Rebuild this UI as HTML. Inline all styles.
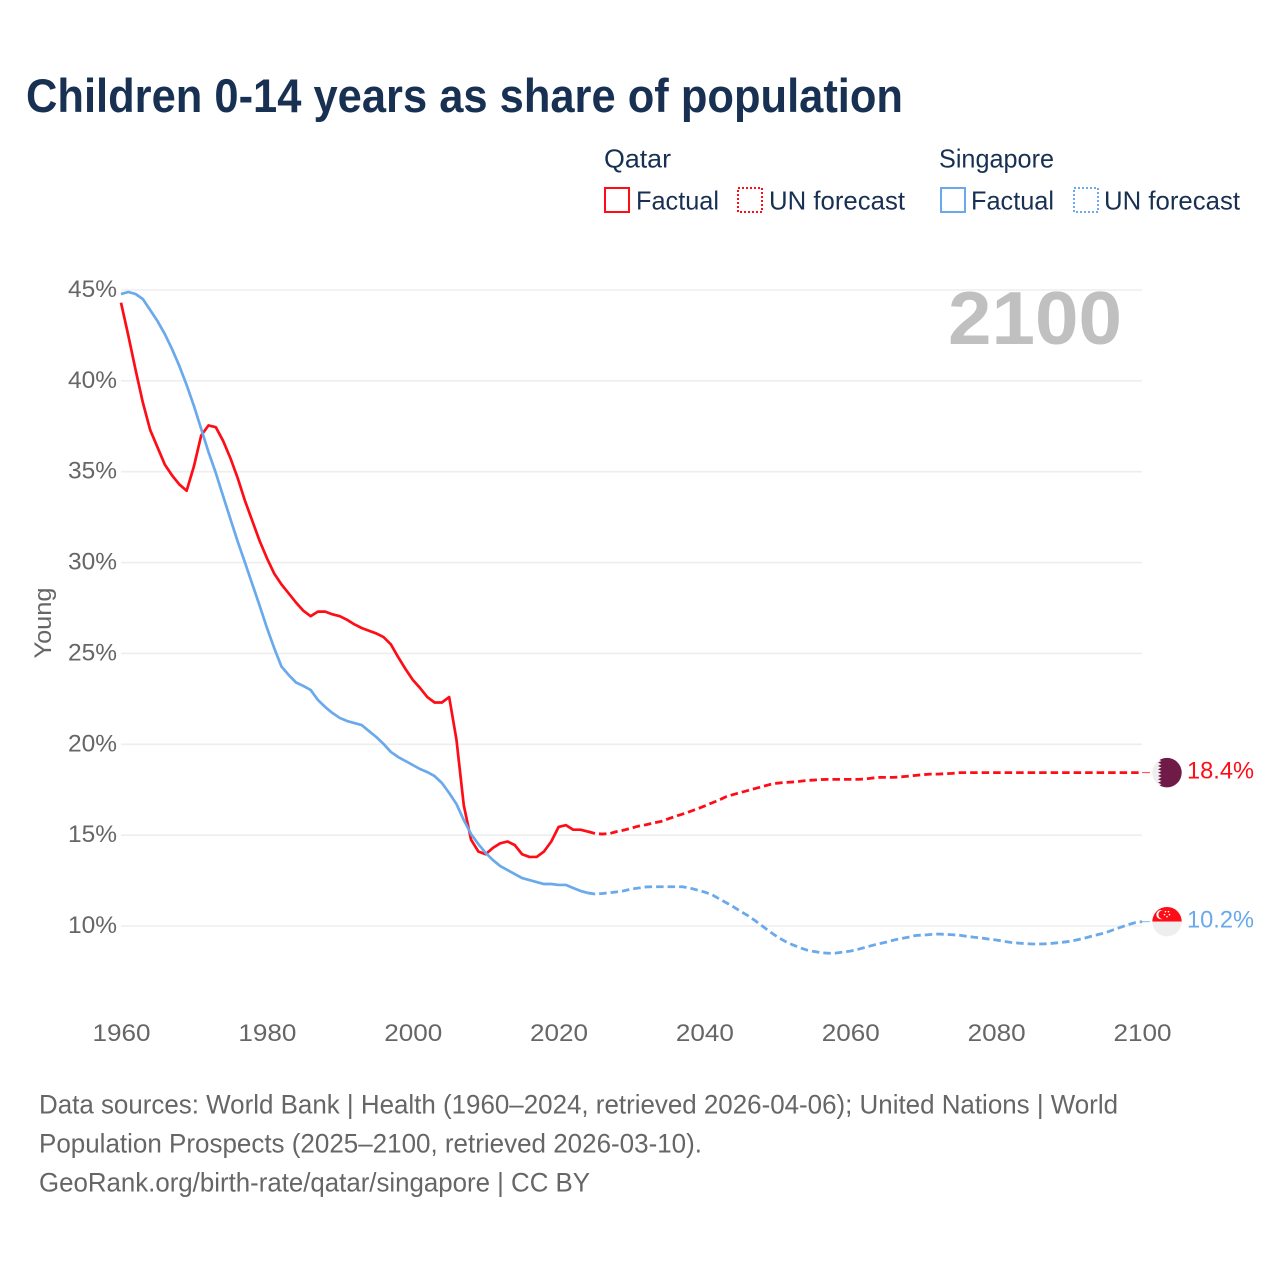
<!DOCTYPE html>
<html lang="en">
<head>
<meta charset="utf-8">
<title>Children 0-14 years as share of population</title>
<style>
html,body{margin:0;padding:0;background:#fff;}
svg{display:block;font-family:"Liberation Sans",sans-serif;}
</style>
</head>
<body>
<svg id="chart" xmlns="http://www.w3.org/2000/svg" width="1280" height="1280" viewBox="0 0 1280 1280">
  <rect x="0" y="0" width="1280" height="1280" fill="#ffffff"/>
  <text x="26" y="112" font-size="47" font-weight="700" fill="#183153" textLength="877" lengthAdjust="spacingAndGlyphs">Children 0-14 years as share of population</text>

  <g font-size="26" fill="#183153">
    <text x="604" y="167.5" textLength="67" lengthAdjust="spacingAndGlyphs">Qatar</text>
    <text x="939" y="167.5" textLength="115" lengthAdjust="spacingAndGlyphs">Singapore</text>
    <g>
      <rect x="605" y="188" width="24" height="24" fill="none" stroke="#ff0d17" stroke-width="2"/>
      <text x="636" y="209.5" textLength="83" lengthAdjust="spacingAndGlyphs">Factual</text>
    </g>
    <g>
      <rect x="738" y="188" width="24" height="24" fill="none" stroke="#ff0d17" stroke-width="2" stroke-dasharray="2 2"/>
      <text x="769" y="209.5" textLength="136" lengthAdjust="spacingAndGlyphs">UN forecast</text>
    </g>
    <g>
      <rect x="941" y="188" width="24" height="24" fill="none" stroke="#69a9ec" stroke-width="2"/>
      <text x="971" y="209.5" textLength="83" lengthAdjust="spacingAndGlyphs">Factual</text>
    </g>
    <g>
      <rect x="1074" y="188" width="24" height="24" fill="none" stroke="#69a9ec" stroke-width="2" stroke-dasharray="2 2"/>
      <text x="1104" y="209.5" textLength="136" lengthAdjust="spacingAndGlyphs">UN forecast</text>
    </g>
  </g>

  <g id="grid"></g>
  <g id="ylabels" font-size="24" fill="#666666" text-anchor="end"></g>
  <g id="xlabels" font-size="24" fill="#666666" text-anchor="middle"></g>
  <text transform="translate(51 623) rotate(-90)" font-size="24" fill="#666666" text-anchor="middle" textLength="71" lengthAdjust="spacingAndGlyphs">Young</text>
  <text x="948" y="344" font-size="75" font-weight="700" fill="#c0c0c0" textLength="174" lengthAdjust="spacingAndGlyphs">2100</text>

  <g id="series"></g>
  <g id="ends"></g>

  <g font-size="27" fill="#666666">
    <text x="39" y="1113.5" textLength="1079" lengthAdjust="spacingAndGlyphs">Data sources: World Bank | Health (1960–2024, retrieved 2026-04-06); United Nations | World</text>
    <text x="39" y="1152.5" textLength="663" lengthAdjust="spacingAndGlyphs">Population Prospects (2025–2100, retrieved 2026-03-10).</text>
    <text x="39" y="1191.5" textLength="551" lengthAdjust="spacingAndGlyphs">GeoRank.org/birth-rate/qatar/singapore | CC BY</text>
  </g>
</svg>
<script>
const firstYear = 1960;
const xTicks = [1960, 1980, 2000, 2020, 2040, 2060, 2080, 2100];
const yTicks = [10, 15, 20, 25, 30, 35, 40, 45];

const qatarFactual = [
  44.30, 42.50, 40.60, 38.80, 37.30, 36.35, 35.40, 34.80, 34.30, 33.95,
  35.30, 37.00, 37.55, 37.45, 36.70, 35.75, 34.65, 33.40, 32.30, 31.20,
  30.25, 29.40, 28.80, 28.30, 27.80, 27.35, 27.05, 27.30, 27.30, 27.15,
  27.05, 26.85, 26.60, 26.40, 26.25, 26.10, 25.90, 25.50, 24.80, 24.15,
  23.55, 23.10, 22.60, 22.30, 22.30, 22.60, 20.25, 16.65, 14.75, 14.10,
  13.95, 14.30, 14.55, 14.65, 14.45, 13.95, 13.80, 13.80, 14.10, 14.65,
  15.45, 15.55, 15.30, 15.30, 15.20
];
const qatarForecast = [
  15.09, 15.06, 15.09, 15.20, 15.28, 15.39, 15.50, 15.57, 15.67, 15.75,
  15.89, 16.03, 16.16, 16.30, 16.44, 16.60, 16.77, 16.93, 17.12, 17.24,
  17.35, 17.46, 17.57, 17.68, 17.79, 17.86, 17.90, 17.92, 17.96, 18.01,
  18.03, 18.06, 18.07, 18.07, 18.07, 18.07, 18.07, 18.09, 18.14, 18.18,
  18.18, 18.18, 18.21, 18.25, 18.29, 18.33, 18.36, 18.36, 18.38, 18.40,
  18.44, 18.44, 18.44, 18.44, 18.44, 18.44, 18.44, 18.44, 18.44, 18.44,
  18.44, 18.44, 18.44, 18.44, 18.44, 18.44, 18.44, 18.44, 18.44, 18.44,
  18.44, 18.44, 18.44, 18.44, 18.44, 18.44
];
const singaporeFactual = [
  44.78, 44.89, 44.78, 44.50, 43.90, 43.29, 42.58, 41.75, 40.82, 39.77,
  38.62, 37.35, 36.08, 34.93, 33.66, 32.40, 31.16, 30.00, 28.82, 27.64,
  26.42, 25.30, 24.28, 23.81, 23.40, 23.21, 22.99, 22.44, 22.05, 21.72,
  21.45, 21.28, 21.17, 21.06, 20.73, 20.40, 20.02, 19.58, 19.30, 19.08,
  18.86, 18.64, 18.47, 18.25, 17.87, 17.32, 16.71, 15.83, 15.06, 14.51,
  14.02, 13.63, 13.30, 13.08, 12.86, 12.64, 12.53, 12.42, 12.31, 12.31,
  12.26, 12.26, 12.09, 11.93, 11.82
];
const singaporeForecast = [
  11.76, 11.79, 11.83, 11.88, 11.94, 12.04, 12.09, 12.15, 12.16, 12.16,
  12.16, 12.16, 12.16, 12.09, 11.98, 11.87, 11.73, 11.50, 11.28, 11.05,
  10.80, 10.56, 10.28, 9.98, 9.68, 9.40, 9.17, 8.98, 8.82, 8.68,
  8.60, 8.53, 8.50, 8.51, 8.57, 8.62, 8.71, 8.82, 8.93, 9.03,
  9.12, 9.23, 9.31, 9.39, 9.48, 9.50, 9.53, 9.56, 9.54, 9.52,
  9.49, 9.43, 9.38, 9.34, 9.28, 9.23, 9.16, 9.10, 9.06, 9.03,
  9.01, 9.01, 9.02, 9.06, 9.10, 9.15, 9.23, 9.32, 9.43, 9.53,
  9.63, 9.78, 9.92, 10.06, 10.18, 10.24
];

const NS = 'http://www.w3.org/2000/svg';
function xScale(year) { return 121 + (year - 1960) * (1142 - 121) / (2100 - 1960); }
function yScale(pct) { return 926 - (pct - 10) * (926 - 290) / (45 - 10); }
function make(tag, attrs, parent) {
  const el = document.createElementNS(NS, tag);
  for (const k in attrs) el.setAttribute(k, attrs[k]);
  parent.appendChild(el);
  return el;
}
function pathFrom(values, startYear) {
  return values.map(function (v, i) {
    return (i ? 'L' : 'M') + xScale(startYear + i).toFixed(2) + ' ' + yScale(v).toFixed(2);
  }).join(' ');
}

const grid = document.getElementById('grid');
const ylabels = document.getElementById('ylabels');
const xlabels = document.getElementById('xlabels');
const seriesG = document.getElementById('series');
const ends = document.getElementById('ends');

yTicks.forEach(function (t) {
  const line = make('line', {x1: 121, x2: 1142, y1: yScale(t), y2: yScale(t), stroke: '#eeeeee', 'stroke-width': 1.6}, grid);
  
  
  const label = make('text', {x: 117, y: yScale(t) + 7, textLength: 49, lengthAdjust: 'spacingAndGlyphs'}, ylabels);
  label.textContent = t + '%';
  
  
});

xTicks.forEach(function (t) {
  const label = make('text', {x: xScale(t) + 0.5, y: 1041, textLength: 58, lengthAdjust: 'spacingAndGlyphs'}, xlabels);
  label.textContent = String(t);
  
  
});

function drawSeries(key, factual, forecast, color) {
  const lastFactualYear = firstYear + factual.length - 1;
  const solid = make('path', {d: pathFrom(factual, firstYear), fill: 'none', stroke: color, 'stroke-width': 2.7, 'stroke-linejoin': 'round'}, seriesG);
  
  
  const joined = [factual[factual.length - 1]].concat(forecast);
  const dashed = make('path', {d: pathFrom(joined, lastFactualYear), fill: 'none', stroke: color, 'stroke-width': 2.8, 'stroke-dasharray': '7.5 4', 'stroke-linejoin': 'round'}, seriesG);
  
  
  const lastValue = forecast[forecast.length - 1];
  const connector = make('line', {x1: 1142, x2: 1150, y1: yScale(lastValue), y2: yScale(lastValue), stroke: color, 'stroke-width': 1, opacity: 0.8}, seriesG);
  
  
  const value = make('text', {x: 1187, y: yScale(lastValue) + 6, 'font-size': 24, fill: color, textLength: 67, lengthAdjust: 'spacingAndGlyphs'}, ends);
  value.textContent = lastValue.toFixed(1) + '%';
  
  
  return yScale(lastValue);
}

const qatarEnd = drawSeries('qatar', qatarFactual, qatarForecast, '#ff0d17');
const singaporeEnd = drawSeries('singapore', singaporeFactual, singaporeForecast, '#69a9ec');

const defs = make('defs', {}, ends);
const clip = make('clipPath', {id: 'flag-clip'}, defs);
make('circle', {cx: 0, cy: 0, r: 14.7}, clip);

const qatarFlag = make('g', {transform: 'translate(1167 ' + qatarEnd + ')', 'clip-path': 'url(#flag-clip)'}, ends);


make('rect', {x: -15, y: -15, width: 30, height: 30, fill: '#eeeeee'}, qatarFlag);
let zig = '15,-15 -5.5,-15';
for (let i = 0; i < 9; i++) {
  const top = -15 + i * (30 / 9);
  zig += ' -9,' + (top + 15 / 9).toFixed(2) + ' -5.5,' + (top + 30 / 9).toFixed(2);
}
zig += ' 15,15';
make('polygon', {points: zig, fill: '#6f1a47'}, qatarFlag);

const sgFlag = make('g', {transform: 'translate(1167 ' + singaporeEnd + ')', 'clip-path': 'url(#flag-clip)'}, ends);


make('rect', {x: -15, y: -15, width: 30, height: 15, fill: '#ff0d17'}, sgFlag);
make('rect', {x: -15, y: 0, width: 30, height: 15, fill: '#eeeeee'}, sgFlag);
make('circle', {cx: -6, cy: -7, r: 4.6, fill: '#ffffff'}, sgFlag);
make('circle', {cx: -4.2, cy: -7, r: 4.4, fill: '#ff0d17'}, sgFlag);
[[-1.5, -10], [1.5, -10], [-2.5, -7], [2.5, -7], [0, -5]].forEach(function (p) {
  make('circle', {cx: p[0], cy: p[1], r: 0.8, fill: '#ffffff'}, sgFlag);
});
</script>
</body>
</html>
